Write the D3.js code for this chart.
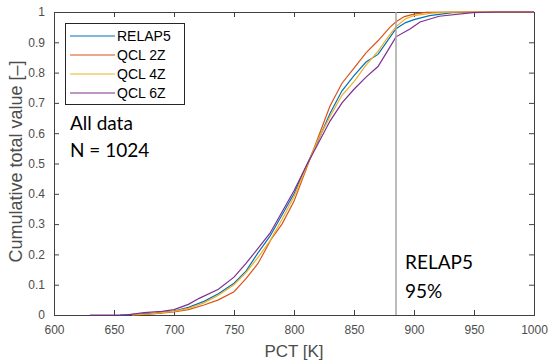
<!DOCTYPE html>
<html>
<head>
<meta charset="utf-8">
<script src="https://cdn.jsdelivr.net/npm/d3@7"></script>
<style>
  body { margin: 0; background: #fff; }
  svg { display: block; }
</style>
</head>
<body>
<div id="graph"><svg></svg></div>
<script>
// data: [PCT (K), cumulative fraction]
let relap5 = [[655,0],[670,0.003],[685,0.006],[700,0.013],[712,0.025],[725,0.045],[737,0.07],[750,0.105],[760,0.145],[770,0.205],[780,0.26],[790,0.33],[800,0.40],[810,0.49],[820,0.575],[830,0.665],[840,0.74],[850,0.79],[860,0.835],[870,0.86],[877,0.9],[885,0.945],[893,0.965],[900,0.975],[913,0.988],[932,0.998],[960,1],[1000,1]];
let qcl2z = [[665,0],[680,0.003],[700,0.01],[712,0.018],[725,0.033],[737,0.05],[750,0.077],[760,0.12],[770,0.17],[781,0.25],[790,0.30],[800,0.375],[810,0.48],[820,0.585],[830,0.69],[840,0.765],[850,0.815],[860,0.865],[870,0.905],[880,0.95],[885,0.968],[892,0.985],[900,0.993],[910,0.999],[930,1],[1000,1]];
let qcl4z = [[665,0],[680,0.004],[700,0.012],[712,0.022],[725,0.04],[737,0.065],[750,0.1],[760,0.14],[770,0.19],[780,0.245],[790,0.315],[800,0.39],[810,0.485],[820,0.578],[830,0.655],[840,0.725],[850,0.77],[860,0.825],[870,0.87],[877,0.91],[885,0.952],[893,0.978],[900,0.988],[915,0.996],[935,1],[1000,1]];
let qcl6z = [[630,0],[660,0],[675,0.008],[690,0.012],[700,0.018],[712,0.035],[721,0.055],[737,0.085],[750,0.125],[760,0.17],[770,0.22],[780,0.27],[790,0.34],[800,0.41],[810,0.49],[820,0.565],[830,0.64],[840,0.70],[850,0.745],[860,0.785],[870,0.82],[877,0.865],[885,0.918],[897,0.945],[905,0.967],[921,0.986],[949,0.998],[970,1],[1000,1]];

let seriesNames = ["RELAP5", "QCL 2Z", "QCL 4Z", "QCL 6Z"];
let seriesColors = ["#0072BD", "#D95319", "#EDB120", "#7E2F8E"];
let allSeries = [relap5, qcl2z, qcl4z, qcl6z];

let xTicks = [600, 650, 700, 750, 800, 850, 900, 950, 1000];
let yTicks = [0, 0.1, 0.2, 0.3, 0.4, 0.5, 0.6, 0.7, 0.8, 0.9, 1];
let markerPct = 885;

// Margin Convention
let margins = { top: 12, right: 15, bottom: 48, left: 54 };
let outerWidth = 549;
let outerHeight = 363;
let innerWidth = outerWidth - margins.left - margins.right;
let innerHeight = outerHeight - margins.top - margins.bottom;

let root = d3.select("div#graph svg")
  .attr("width", outerWidth)
  .attr("height", outerHeight);

let svg = root.append("g")
  .attr("transform", "translate(" + margins.left + "," + margins.top + ")");

let xScale = d3.scaleLinear().domain([600, 1000]).range([0, innerWidth]);
let yScale = d3.scaleLinear().domain([0, 1]).range([innerHeight, 0]);

let axisColor = "#404040";
let tickFont = "'Liberation Sans', Arial, sans-serif";

// axes (MATLAB style: ticks inside, box around)
function styleAxis(g, showLabels) {
  g.select(".domain").remove();
  g.selectAll(".tick line").attr("stroke", axisColor);
  g.selectAll(".tick text")
    .style("font-family", tickFont)
    .style("font-size", "12px")
    .attr("fill", "#4d4d4d");
  if (!showLabels) g.selectAll(".tick text").remove();
}

svg.append("g")
  .attr("transform", "translate(0," + innerHeight + ")")
  .call(d3.axisBottom(xScale).tickValues(xTicks).tickFormat(d3.format("d")).tickSizeInner(-5).tickSizeOuter(0).tickPadding(10))
  .call(g => styleAxis(g, true));

svg.append("g")
  .call(d3.axisTop(xScale).tickValues(xTicks).tickSizeInner(-5).tickSizeOuter(0))
  .call(g => styleAxis(g, false));

svg.append("g")
  .call(d3.axisLeft(yScale).tickValues(yTicks).tickFormat(d3.format("")).tickSizeInner(-5).tickSizeOuter(0).tickPadding(9))
  .call(g => styleAxis(g, true));

svg.append("g")
  .attr("transform", "translate(" + innerWidth + ",0)")
  .call(d3.axisRight(yScale).tickValues(yTicks).tickSizeInner(-5).tickSizeOuter(0))
  .call(g => styleAxis(g, false));

// box
svg.append("rect")
  .attr("x", 0.5)
  .attr("y", 0.5)
  .attr("width", innerWidth)
  .attr("height", innerHeight)
  .attr("fill", "none")
  .attr("stroke", axisColor)
  .attr("stroke-width", 1);

// curves
let line = d3.line()
  .x(d => xScale(d[0]))
  .y(d => yScale(d[1]));

allSeries.forEach((s, i) => {
  svg.append("path")
    .datum(s)
    .attr("d", line)
    .attr("fill", "none")
    .attr("stroke", seriesColors[i])
    .attr("stroke-width", 1.2);
});

// RELAP5 95% marker line
svg.append("line")
  .attr("x1", xScale(markerPct))
  .attr("x2", xScale(markerPct))
  .attr("y1", 0)
  .attr("y2", innerHeight)
  .attr("stroke", "#a6a6a6")
  .attr("stroke-width", 1.5);

// legend
let legend = svg.append("g").attr("transform", "translate(11,11)");
legend.append("rect")
  .attr("x", 0.5)
  .attr("y", 0.5)
  .attr("width", 119)
  .attr("height", 81)
  .attr("fill", "#fff")
  .attr("stroke", "#262626");

seriesNames.forEach((name, i) => {
  let yy = 13 + i * 19;
  legend.append("line")
    .attr("x1", 5)
    .attr("x2", 50)
    .attr("y1", yy)
    .attr("y2", yy)
    .attr("stroke", seriesColors[i])
    .attr("stroke-width", 1.2);
  legend.append("text")
    .attr("x", 52)
    .attr("y", yy + 5)
    .style("font-family", tickFont)
    .style("font-size", "14px")
    .attr("fill", "#000")
    .text(name);
});

// annotations
let noteFont = "Lato, 'Open Sans', sans-serif";
[["All data", 16, 118], ["N = 1024", 16, 145]].forEach(t => {
  svg.append("text")
    .attr("x", t[1]).attr("y", t[2])
    .style("font-family", noteFont)
    .style("font-size", "19px")
    .attr("fill", "#000")
    .text(t[0]);
});
[["RELAP5", 351, 257], ["95%", 351, 286]].forEach(t => {
  svg.append("text")
    .attr("x", t[1]).attr("y", t[2])
    .style("font-family", noteFont)
    .style("font-size", "19px")
    .attr("fill", "#000")
    .text(t[0]);
});

// axis titles
svg.append("text")
  .attr("x", innerWidth / 2)
  .attr("y", innerHeight + 42)
  .style("text-anchor", "middle")
  .style("font-family", tickFont)
  .style("font-size", "17px")
  .attr("fill", "#4d4d4d")
  .text("PCT [K]");

svg.append("text")
  .attr("transform", "rotate(-90)")
  .attr("x", -innerHeight / 2 + 2)
  .attr("y", -32)
  .style("text-anchor", "middle")
  .style("font-family", tickFont)
  .style("font-size", "18px")
  .attr("fill", "#4d4d4d")
  .text("Cumulative total value [\u2013]");
</script>
</body>
</html>
